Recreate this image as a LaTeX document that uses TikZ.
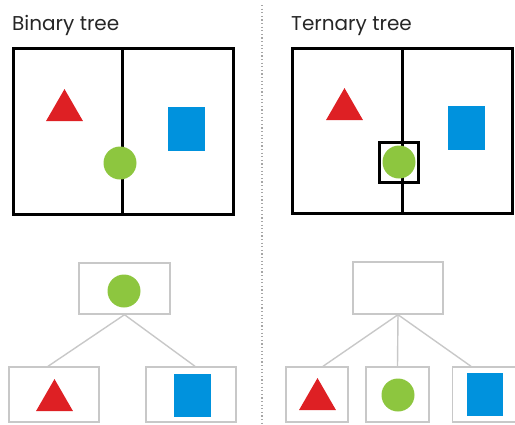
\documentclass[tikz,border=0pt]{standalone}
\usepackage{fontspec}
\setmainfont{Poppins}
\usetikzlibrary{shapes.geometric}
\definecolor{tred}{RGB}{222,32,36}
\definecolor{tgreen}{RGB}{141,198,63}
\definecolor{tblue}{RGB}{0,146,221}
\definecolor{tgray}{RGB}{200,200,200}
\tikzset{
  heavy/.style={line width=3pt, draw=black},
  treebox/.style={draw=tgray, line width=1.4pt, rectangle, inner sep=0pt},
  edgeline/.style={draw=tgray, line width=1.4pt},
  redtri/.style={regular polygon, regular polygon sides=3, minimum size=42.7pt, fill=tred, inner sep=0pt, draw=none},
  greencirc/.style={circle, minimum size=33pt, fill=tgreen, inner sep=0pt, draw=none},
  bluerect/.style={rectangle, minimum width=37pt, minimum height=44pt, fill=tblue, inner sep=0pt, draw=none},
  title/.style={anchor=base west, inner sep=0pt, font=\fontsize{20}{24}\selectfont, text=black!85},
}
\begin{document}
\begin{tikzpicture}[x=1pt, y=-1pt]
\useasboundingbox (0,0) rectangle (515,424);
% separator
\coordinate (sepA) at (262,5);
\coordinate (sepB) at (262,424);
\draw[gray!70, line width=1.2pt, dash pattern=on 1.2pt off 2.4pt] (sepA) -- (sepB);
% titles
\node[title] (t1) at (12,30) {Binary tree};
\node[title] (t2) at (291,30) {Ternary tree};
% ---- binary top
\node[redtri] (bt1) at (64.5,110.4) {};
\node[bluerect] (bb1) at (186.5,129) {};
\draw[heavy] (13,48) rectangle (233,214);
\draw[heavy] (122,48) -- (122,214);
\node[greencirc] (bc1) at (120,163) {};
% ---- ternary top
\node[redtri] (tt1) at (344.5,109.4) {};
\node[bluerect] (tb1) at (466,128) {};
\draw[heavy] (292,48) rectangle (512,213);
\draw[heavy] (402,48) -- (402,213);
\node[draw=black, line width=3pt, minimum width=39pt, minimum height=40pt, inner sep=0pt] (tsq) at (398.5,162) {};
\node[greencirc] (tc1) at (399,162) {};
% ---- binary tree bottom
\node[treebox, minimum width=91pt, minimum height=51pt] (broot) at (124.5,288.5) {};
\node[treebox, minimum width=90pt, minimum height=55pt] (bleft) at (54,394.5) {};
\node[treebox, minimum width=90pt, minimum height=55pt] (bright) at (191,394.5) {};
\draw[edgeline] (broot.south) -- ([xshift=-6pt]bleft.north);
\draw[edgeline] (broot.south) -- ([xshift=4pt]bright.north);
\node[greencirc] (bc2) at (124,291) {};
\node[redtri] (bt2) at (54.5,400.4) {};
\node[bluerect, minimum height=43pt] (bb2) at (192.5,395.5) {};
% ---- ternary tree bottom
\node[treebox, minimum width=90pt, minimum height=52pt] (troot) at (398,288) {};
\node[treebox, minimum width=62pt, minimum height=55pt] (tleft) at (317,394.5) {};
\node[treebox, minimum width=63pt, minimum height=55pt] (tmid) at (397.5,394.5) {};
\node[treebox, minimum width=63pt, minimum height=55pt] (tright) at (484,394.5) {};
\draw[edgeline] (troot.south) -- ([xshift=6pt]tleft.north);
\draw[edgeline] (troot.south) -- (tmid.north);
\draw[edgeline] (troot.south) -- ([xshift=-13pt]tright.north);
\node[redtri] (tt2) at (317.5,399.4) {};
\node[greencirc] (tc2) at (398,395) {};
\node[bluerect, minimum width=36pt, minimum height=43pt] (tb2) at (485,394.5) {};
\end{tikzpicture}
\end{document}
